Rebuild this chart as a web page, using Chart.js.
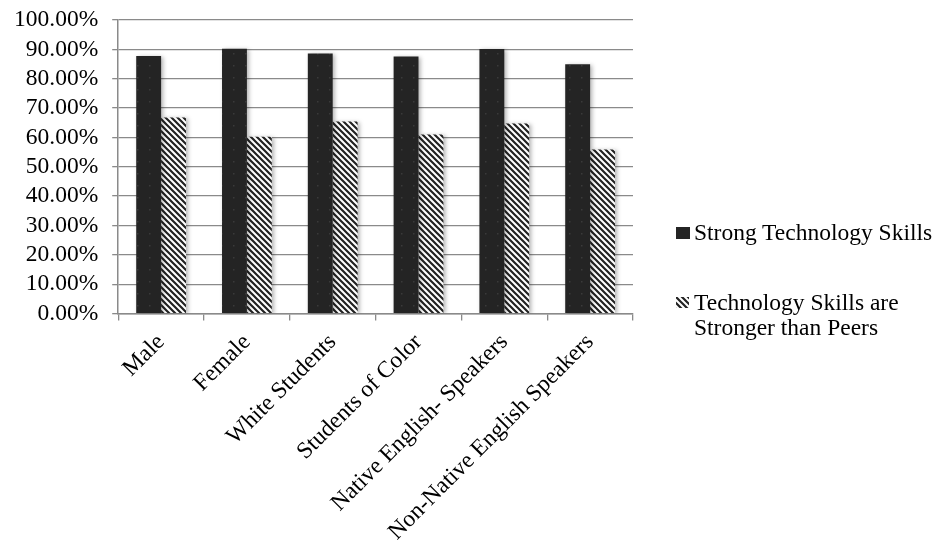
<!DOCTYPE html>
<html>
<head>
<meta charset="utf-8">
<script src="https://cdn.jsdelivr.net/npm/chart.js@4/dist/chart.umd.min.js"></script>
<style>
  html, body { margin: 0; padding: 0; background: #fff; }
  #wrap { position: relative; width: 940px; height: 546px; }
  #legend { position: absolute; left: 676px; top: 0; font-family: "Liberation Serif", "Times New Roman", serif; font-size: 23.5px; color: #000; }
  .item { position: absolute; left: 0; white-space: nowrap; line-height: 25px; }
  .item canvas { position: absolute; left: 0; }
  .item span { display: block; padding-left: 18px; }
</style>
</head>
<body>
<div id="wrap">
  <canvas id="chart" width="940" height="546"></canvas>
  <div id="legend"></div>
</div>
<script>
const categories = ['Male', 'Female', 'White Students', 'Students of Color', 'Native English- Speakers', 'Non-Native English Speakers'];
const strongSkills = [87.7, 90.2, 88.6, 87.6, 90.1, 84.9];
const strongerThanPeers = [66.8, 60.2, 65.4, 61.0, 64.7, 55.9];
const yTicks = [0, 10, 20, 30, 40, 50, 60, 70, 80, 90, 100];
const seriesNames = ['Strong Technology Skills', ['Technology Skills are', 'Stronger than Peers']];

const fontFamily = '"Liberation Serif", "Times New Roman", serif';
const fontSize = 23.5;
const gridGray = '#8a8a8a';

//dark fill with faint dots
const makeDotPattern = () => {
  const c = document.createElement('canvas');
  c.width = 12; c.height = 12;
  const g = c.getContext('2d');
  g.fillStyle = '#242424';
  g.fillRect(0, 0, 12, 12);
  g.fillStyle = '#3a3a3a';
  g.fillRect(5, 5, 1.5, 1.5);
  return g.createPattern(c, 'repeat');
};

//diagonal black/white stripes going down to the right
const makeStripePattern = (ctx) => {
  const n = 6;
  const c = document.createElement('canvas');
  c.width = n; c.height = n;
  const g = c.getContext('2d');
  g.fillStyle = '#fff';
  g.fillRect(0, 0, n, n);
  g.strokeStyle = '#222';
  g.lineWidth = 2.2;
  g.beginPath();
  g.moveTo(-1, -1); g.lineTo(n + 1, n + 1);
  g.moveTo(-1, n - 1); g.lineTo(1, n + 1);
  g.moveTo(n - 1, -1); g.lineTo(n + 1, 1);
  g.stroke();
  return (ctx || g).createPattern(c, 'repeat');
};

//soft shadow behind the bars
const barShadow = {
  id: 'barShadow',
  beforeDatasetsDraw(chart) {
    const ctx = chart.ctx;
    ctx.save();
    ctx.shadowColor = 'rgba(0,0,0,0.3)';
    ctx.shadowBlur = 4;
    ctx.shadowOffsetX = 2;
    ctx.shadowOffsetY = 1;
  },
  afterDatasetsDraw(chart) {
    chart.ctx.restore();
  }
};

const dotFill = makeDotPattern();
const stripeFill = makeStripePattern();

new Chart(document.getElementById('chart'), {
  type: 'bar',
  data: {
    labels: categories,
    datasets: [
      { label: 'Strong Technology Skills', data: strongSkills, backgroundColor: dotFill, borderWidth: 0 },
      { label: 'Technology Skills are Stronger than Peers', data: strongerThanPeers, backgroundColor: stripeFill, borderWidth: 0 }
    ]
  },
  plugins: [barShadow],
  options: {
    responsive: false,
    animation: false,
    layout: { padding: { left: 0, right: 307, top: 20, bottom: -8 } },
    datasets: { bar: { barPercentage: 1, categoryPercentage: 0.58 } },
    plugins: { legend: { display: false }, tooltip: { enabled: false } },
    scales: {
      x: {
        grid: { offset: true, drawOnChartArea: false, drawTicks: true, tickLength: 7, color: gridGray, lineWidth: 1.3 },
        border: { color: gridGray, width: 1.5 },
        ticks: {
          autoSkip: false, minRotation: 45, maxRotation: 45, padding: 8,
          color: '#000', font: { family: fontFamily, size: fontSize }
        }
      },
      y: {
        min: 0, max: 100,
        afterBuildTicks: (axis) => { axis.ticks = yTicks.map(v => ({ value: v })); },
        //let the top label hang into the page margin instead of pushing the plot down
        afterFit: (axis) => { axis.paddingTop = 0; axis.paddingBottom = 0; },
        grid: { color: gridGray, lineWidth: 1.3, drawTicks: true, tickLength: 6 },
        border: { color: gridGray, width: 1.5 },
        ticks: {
          autoSkip: false, padding: 14, color: '#000', font: { family: fontFamily, size: fontSize },
          callback: (v) => Number(v).toFixed(2) + '%'
        }
      }
    }
  }
});

//legend built beside the plot
const legend = document.getElementById('legend');
const swatches = [
  { top: 220, fill: (g) => { g.fillStyle = '#242424'; g.fillRect(0, 0, 14, 12); } },
  { top: 290, fill: (g) => { g.fillStyle = makeStripePattern(g); g.fillRect(0, 0, 13, 11); } }
];
seriesNames.forEach((name, i) => {
  const item = document.createElement('div');
  item.className = 'item';
  item.style.top = swatches[i].top + 'px';
  const sw = document.createElement('canvas');
  sw.width = 14; sw.height = 12;
  sw.style.top = '7px';
  swatches[i].fill(sw.getContext('2d'));
  item.appendChild(sw);
  const lines = Array.isArray(name) ? name : [name];
  lines.forEach(t => {
    const s = document.createElement('span');
    s.textContent = t;
    item.appendChild(s);
  });
  legend.appendChild(item);
});
</script>
</body>
</html>
